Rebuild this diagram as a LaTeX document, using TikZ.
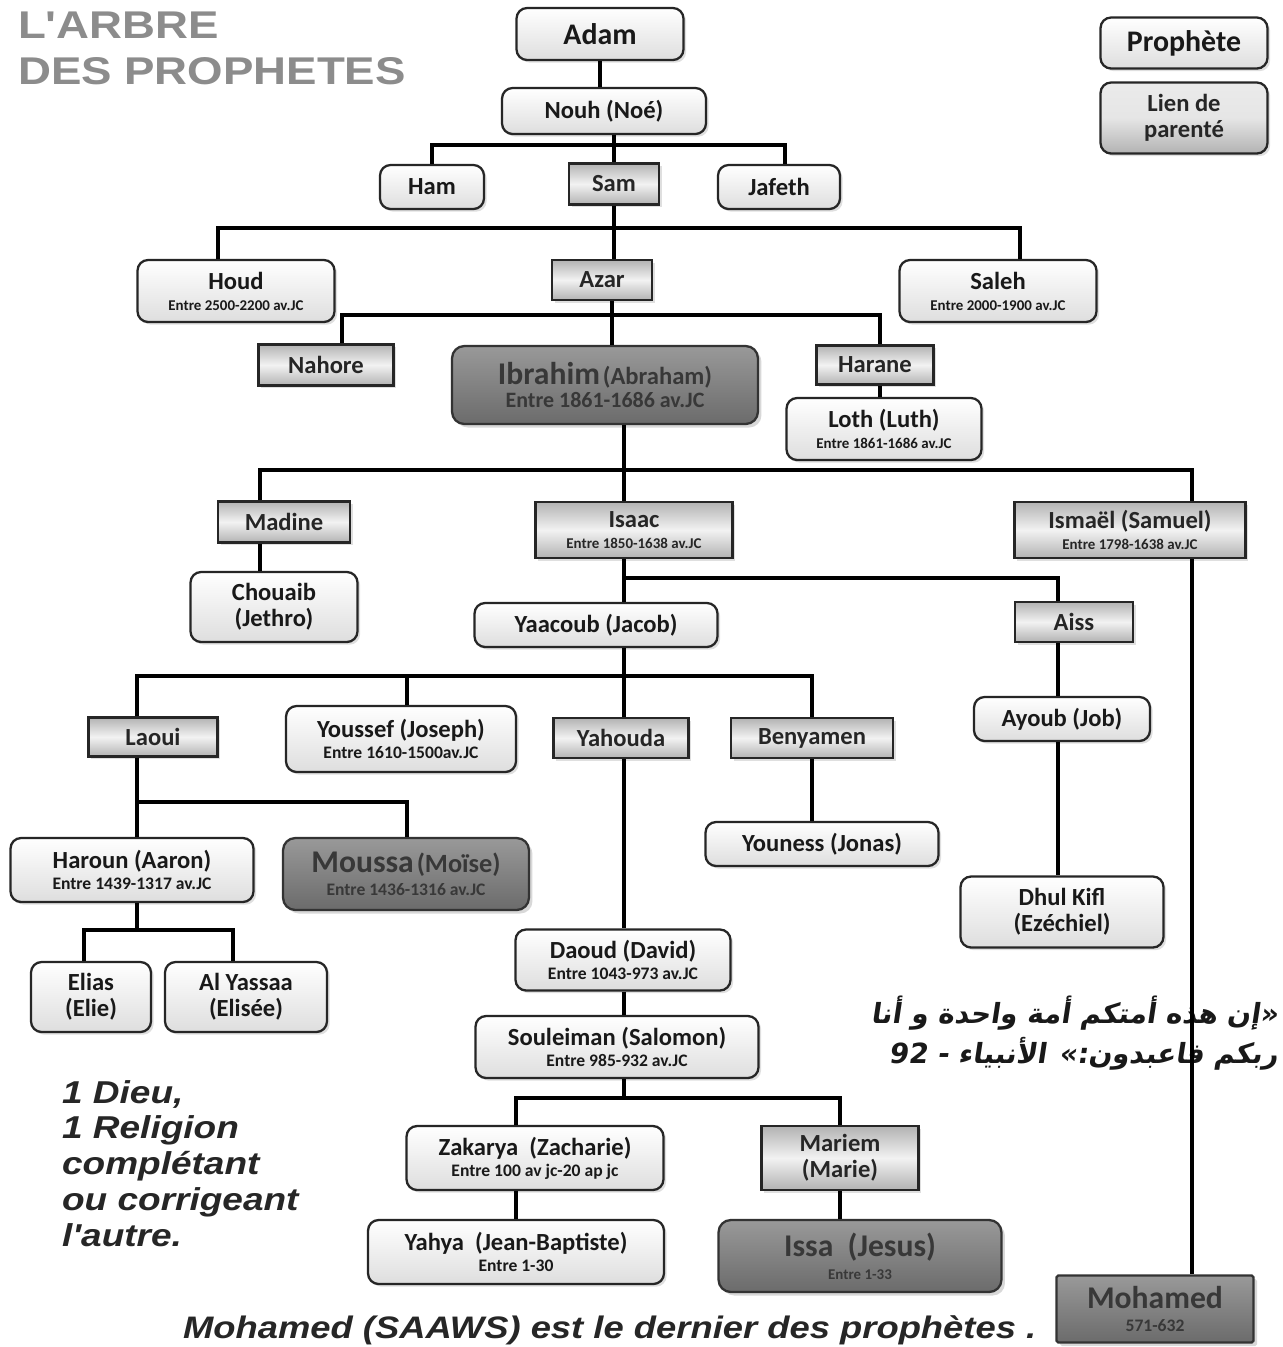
\documentclass[tikz,border=0pt]{standalone}
\usepackage{fontspec}
\usetikzlibrary{shadows}
\setmainfont{Carlito}
\newfontfamily\titrefont[FakeStretch=1.18]{Liberation Sans}
\newfontfamily\devisefont[FakeStretch=1.17]{Liberation Sans}
\newfontfamily\arabicfont[Script=Arabic,FakeSlant=0.15]{DejaVu Sans}
\TeXXeTstate=1
\newcommand\nom{\fontsize{14}{15}\selectfont}
\newcommand\grand{\fontsize{18}{19}\selectfont}
\newcommand\petit{\fontsize{8.5}{10}\selectfont}
\newcommand\moyen{\fontsize{10}{11.5}\selectfont}

\begin{document}
\begin{tikzpicture}[x=0.02cm,y=-0.02cm]
            \tikzstyle{every node}+=[inner sep=1pt]
            \tikzstyle{prophete}=[draw=black!85, line width=1.3pt, rounded corners=6pt, top color=white, bottom color=black!13, align=center, font=\bfseries\nom, text=black!90, drop shadow={shadow xshift=1.5pt, shadow yshift=-1.5pt, opacity=0.25}]
            \tikzstyle{parent}=[draw=black!85, line width=1.3pt, top color=black!30, bottom color=black!30, middle color=black!5, align=center, font=\bfseries\nom, text=black!85, drop shadow={shadow xshift=1.5pt, shadow yshift=-1.5pt, opacity=0.25}]
            \tikzstyle{majeur}=[draw=black!80, line width=1.3pt, rounded corners=7pt, top color=black!40, bottom color=black!58, align=center, font=\bfseries, text=black!78, drop shadow={shadow xshift=2pt, shadow yshift=-2pt, opacity=0.3}]
            \tikzstyle{lien}=[draw=black, line width=2pt]
            \useasboundingbox (0,0) rectangle (1283,1347);
            \fill [white] (0,0) rectangle (1283,1347);
            \node [anchor=north west, align=left, text=black!45, font=\titrefont\bfseries\fontsize{22}{26}\selectfont] (titre) at (16,10) {L'ARBRE\\DES PROPHETES};
            \node [prophete, minimum width=3.34cm, minimum height=1.02cm, font=\bfseries\fontsize{17}{18}\selectfont] (legproph) at (1184,43) {Prophète};
            \node [parent, rounded corners=6pt, top color=black!8, bottom color=black!30, middle color=black!10, minimum width=3.34cm, minimum height=1.42cm] (legparent) at (1184,118) {Lien de\\parenté};
            \node [prophete, minimum width=3.34cm, minimum height=1.04cm, font=\bfseries\fontsize{17}{18}\selectfont] (adam) at (600,34) {Adam};
            \node [prophete, minimum width=4.08cm, minimum height=0.92cm] (nouh) at (604,111) {Nouh (Noé)};
            \node [prophete, minimum width=2.08cm, minimum height=0.88cm] (ham) at (432,187) {Ham};
            \node [parent, minimum width=1.8cm, minimum height=0.82cm] (sam) at (614,184) {Sam};
            \node [prophete, minimum width=2.44cm, minimum height=0.88cm] (jafeth) at (779,187) {Jafeth};
            \node [prophete, minimum width=3.94cm, minimum height=1.24cm] (houd) at (236,291) {Houd\\[-3pt]{\petit Entre 2500-2200 av.JC}};
            \node [parent, minimum width=2.0cm, minimum height=0.8cm] (azar) at (602,280) {Azar};
            \node [prophete, minimum width=3.94cm, minimum height=1.24cm] (saleh) at (998,291) {Saleh\\[-3pt]{\petit Entre 2000-1900 av.JC}};
            \node [parent, minimum width=2.7cm, minimum height=0.82cm] (nahore) at (326,365) {Nahore};
            \node [majeur, minimum width=6.12cm, minimum height=1.56cm] (ibrahim) at (605,385) {{\grand Ibrahim}\,{\fontsize{14}{15}\selectfont(Abraham)}\\[1pt]{\fontsize{12.5}{15}\selectfont Entre 1861-1686 av.JC}};
            \node [parent, minimum width=2.34cm, minimum height=0.78cm] (harane) at (875,365) {Harane};
            \node [prophete, minimum width=3.9cm, minimum height=1.24cm] (loth) at (884,429) {Loth (Luth)\\[-3pt]{\petit Entre 1861-1686 av.JC}};
            \node [parent, minimum width=2.64cm, minimum height=0.82cm] (madine) at (284,522) {Madine};
            \node [parent, minimum width=3.94cm, minimum height=1.12cm] (isaac) at (634,530) {Isaac\\[-3pt]{\petit Entre 1850-1638 av.JC}};
            \node [parent, minimum width=4.62cm, minimum height=1.12cm] (ismael) at (1130,530) {Ismaël (Samuel)\\[-3pt]{\petit Entre 1798-1638 av.JC}};
            \node [prophete, minimum width=3.34cm, minimum height=1.4cm] (chouaib) at (274,607) {Chouaib\\(Jethro)};
            \node [prophete, minimum width=4.86cm, minimum height=0.88cm] (yaacoub) at (596,625) {Yaacoub (Jacob)};
            \node [parent, minimum width=2.36cm, minimum height=0.8cm] (aiss) at (1074,622) {Aiss};
            \node [parent, minimum width=2.58cm, minimum height=0.78cm] (laoui) at (153,737) {Laoui};
            \node [prophete, minimum width=4.6cm, minimum height=1.32cm] (youssef) at (401,739) {Youssef (Joseph)\\[-3pt]{\moyen Entre 1610-1500av.JC}};
            \node [parent, minimum width=2.7cm, minimum height=0.8cm] (yahouda) at (621,738) {Yahouda};
            \node [parent, minimum width=3.24cm, minimum height=0.8cm] (benyamen) at (812,738) {Benyamen};
            \node [prophete, minimum width=3.52cm, minimum height=0.88cm] (ayoub) at (1062,719) {Ayoub (Job)};
            \node [prophete, minimum width=4.66cm, minimum height=0.88cm] (youness) at (822,844) {Youness (Jonas)};
            \node [prophete, minimum width=4.86cm, minimum height=1.28cm] (haroun) at (132,870) {Haroun (Aaron)\\[-3pt]{\moyen Entre 1439-1317 av.JC}};
            \node [majeur, minimum width=4.92cm, minimum height=1.44cm] (moussa) at (406,874) {{\grand Moussa}\,{\fontsize{15}{16}\selectfont(Moïse)}\\[1pt]{\moyen Entre 1436-1316 av.JC}};
            \node [prophete, minimum width=4.06cm, minimum height=1.42cm] (dhulkifl) at (1062,912) {Dhul Kifl\\(Ezéchiel)};
            \node [prophete, minimum width=2.4cm, minimum height=1.4cm] (elias) at (91,997) {Elias\\(Elie)};
            \node [prophete, minimum width=3.24cm, minimum height=1.4cm] (alyassaa) at (246,997) {Al Yassaa\\(Elisée)};
            \node [prophete, minimum width=4.3cm, minimum height=1.22cm] (daoud) at (623,960) {Daoud (David)\\[-3pt]{\moyen Entre 1043-973 av.JC}};
            \node [prophete, minimum width=5.66cm, minimum height=1.24cm] (souleiman) at (617,1047) {Souleiman (Salomon)\\[-3pt]{\moyen Entre 985-932 av.JC}};
            \node [prophete, minimum width=5.14cm, minimum height=1.28cm] (zakarya) at (535,1158) {Zakarya~~(Zacharie)\\[-3pt]{\moyen Entre 100 av jc-20 ap jc}};
            \node [parent, minimum width=3.14cm, minimum height=1.28cm] (mariem) at (840,1158) {Mariem\\(Marie)};
            \node [prophete, minimum width=5.92cm, minimum height=1.28cm] (yahya) at (516,1252) {Yahya~~(Jean-Baptiste)\\[-3pt]{\moyen Entre 1-30}};
            \node [majeur, minimum width=5.66cm, minimum height=1.44cm] (issa) at (860,1256) {{\fontsize{18}{19}\selectfont Issa~~(Jesus)}\\[1pt]{\petit Entre 1-33}};
            \node [majeur, rounded corners=1pt, minimum width=3.94cm, minimum height=1.34cm] (mohamed) at (1155,1309) {{\grand Mohamed}\\[1pt]{\moyen 571-632}};
            \node [anchor=north west, align=left, text=black!85, font=\devisefont\bfseries\itshape\fontsize{18}{20.4}\selectfont] (devise) at (60,1078) {1 Dieu,\\1 Religion\\complétant\\ou corrigeant\\l'autre.};
            \node [anchor=base west, text=black!85, font=\devisefont\bfseries\itshape\fontsize{17.7}{20}\selectfont] (dernier) at (181,1338) {Mohamed (SAAWS) est le dernier des prophètes .};
            \node [anchor=north east, align=right, text=black!90, font=\arabicfont\bfseries\fontsize{15.8}{22.7}\selectfont] (verset) at (1280,994) {\beginR «إن هذه أمتكم أمة واحدة و أنا\endR\\\beginR ربكم فاعبدون:» الأنبياء - \beginL 92\endL\endR};
            \coordinate (c1) at (614,145);
            \coordinate (c1w) at (432,145);
            \coordinate (c1e) at (785,145);
            \coordinate (c2) at (614,228);
            \coordinate (c2w) at (218,228);
            \coordinate (c2e) at (1020,228);
            \coordinate (c3) at (612,315);
            \coordinate (c3w) at (342,315);
            \coordinate (c3e) at (880,315);
            \coordinate (c4) at (624,470);
            \coordinate (c4w) at (260,470);
            \coordinate (c4e) at (1192,470);
            \coordinate (c5) at (624,578);
            \coordinate (c5e) at (1058,578);
            \coordinate (c6) at (624,676);
            \coordinate (c6w) at (137,676);
            \coordinate (c6m) at (407,676);
            \coordinate (c6e) at (812,676);
            \coordinate (c7) at (137,802);
            \coordinate (c7e) at (407,802);
            \coordinate (c8) at (137,930);
            \coordinate (c8w) at (84,930);
            \coordinate (c8e) at (233,930);
            \coordinate (c9) at (624,1098);
            \coordinate (c9w) at (516,1098);
            \coordinate (c9e) at (840,1098);
            \draw [lien] (adam.south) -- (adam.south |- nouh.north);
            \draw [lien] (nouh.south -| c1) -- (sam.north -| c1);
            \draw [lien] (ham.north -| c1w) |- (c1e) -- (jafeth.north -| c1e);
            \draw [lien] (sam.south -| c2) -- (azar.north -| c2);
            \draw [lien] (houd.north -| c2w) |- (c2e) -- (saleh.north -| c2e);
            \draw [lien] (azar.south -| c3) -- (ibrahim.north -| c3);
            \draw [lien] (nahore.north -| c3w) |- (c3e) -- (harane.north -| c3e);
            \draw [lien] (harane.south -| c3e) -- (loth.north -| c3e);
            \draw [lien] (ibrahim.south -| c4) -- (isaac.north -| c4);
            \draw [lien] (madine.north -| c4w) |- (c4e) -- (ismael.north -| c4e);
            \draw [lien] (madine.south -| c4w) -- (chouaib.north -| c4w);
            \draw [lien] (ismael.south -| c4e) -- (mohamed.north -| c4e);
            \draw [lien] (isaac.south -| c5) -- (yaacoub.north -| c5);
            \draw [lien] (c5) -- (c5e) -- (aiss.north -| c5e);
            \draw [lien] (aiss.south -| c5e) -- (ayoub.north -| c5e);
            \draw [lien] (ayoub.south -| c5e) -- (dhulkifl.north -| c5e);
            \draw [lien] (yaacoub.south -| c6) -- (yahouda.north -| c6);
            \draw [lien] (laoui.north -| c6w) |- (c6e) -- (benyamen.north -| c6e);
            \draw [lien] (c6m) -- (youssef.north -| c6m);
            \draw [lien] (benyamen.south -| c6e) -- (youness.north -| c6e);
            \draw [lien] (yahouda.south -| c6) -- (daoud.north -| c6);
            \draw [lien] (daoud.south -| c6) -- (souleiman.north -| c6);
            \draw [lien] (laoui.south -| c7) -- (haroun.north -| c7);
            \draw [lien] (c7) -- (c7e) -- (moussa.north -| c7e);
            \draw [lien] (haroun.south -| c8) -- (c8);
            \draw [lien] (elias.north -| c8w) |- (c8e) -- (alyassaa.north -| c8e);
            \draw [lien] (souleiman.south -| c9) -- (c9);
            \draw [lien] (zakarya.north -| c9w) |- (c9e) -- (mariem.north -| c9e);
            \draw [lien] (zakarya.south -| c9w) -- (yahya.north -| c9w);
            \draw [lien] (mariem.south -| c9e) -- (issa.north -| c9e);
        \end{tikzpicture}
\end{document}
